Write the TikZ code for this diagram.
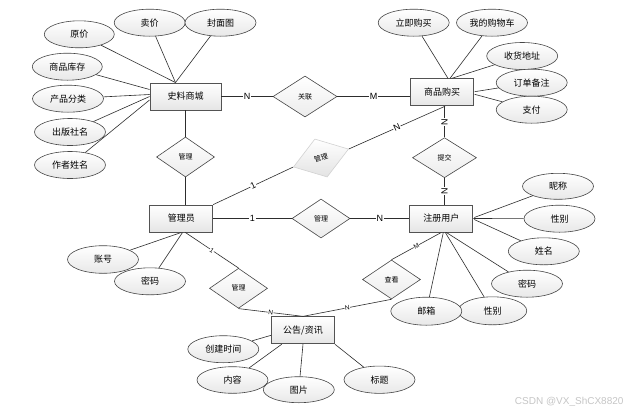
\documentclass[tikz,border=0pt]{standalone}
\usepackage{fontspec}
\setmainfont{Liberation Sans}
\newfontfamily\cjk{Noto Sans CJK SC}
\usetikzlibrary{shapes.geometric,calc}
\begin{document}
\begin{tikzpicture}[x=1pt,y=-1pt,
 ent/.style={rectangle,draw=gray!65!black,line width=0.9pt,top color=white,bottom color=gray!20,minimum width=63pt,minimum height=27pt,inner sep=0pt,font=\cjk\fontsize{9}{10}\selectfont},
 attr/.style={ellipse,draw=gray!55!black,line width=0.6pt,top color=white,bottom color=gray!18,minimum width=71pt,minimum height=27pt,inner sep=0pt,font=\cjk\fontsize{9}{10}\selectfont},
 rel/.style={diamond,draw=gray!55!black,line width=0.6pt,top color=white,bottom color=gray!15,minimum width=58pt,minimum height=40pt,inner sep=0pt,font=\cjk\fontsize{7}{8}\selectfont},
 conn/.style={draw=gray!35!black,line width=0.6pt},
 lbl/.style={fill=white,inner sep=0.6pt,font=\fontsize{9}{10}\selectfont},
 slbl/.style={fill=white,inner sep=0.4pt,font=\fontsize{6.5}{7}\selectfont},
]
\useasboundingbox[fill=white] (0,0) rectangle (634,413);

% entities
\node[ent,minimum width=71pt] (ssc) at (185.5,96.5) {史料商城};
\node[ent] (spgm) at (442,92.3) {商品购买};
\node[ent] (gly) at (181.3,218.5) {管理员};
\node[ent] (zcyh) at (441.3,218.5) {注册用户};
\node[ent] (gg) at (303,330.3) {公告/资讯};

% relationships
\node[rel,minimum width=64pt,minimum height=41pt] (r1) at (305,96.5) {关联};
\node[rel] (r2) at (185.5,157) {管理};
\node[rel,rotate=18,draw=gray!35,top color=white,bottom color=gray!22] (r3) at (321,158) {管理};
\node[rel,minimum width=64pt] (r4) at (444.5,157.7) {提交};
\node[rel,minimum height=39pt] (r5) at (321,218.5) {管理};
\node[rel] (r6) at (238.5,288.3) {管理};
\node[rel,minimum height=39pt] (r7) at (391.5,279.5) {查看};

% connectors between entities and relationships
\draw[conn] (ssc.east) -- node[lbl]{N} (r1.west);
\draw[conn] (r1.east) -- node[lbl]{M} (r1.east -| spgm.west);
\draw[conn] (ssc.south) -- (r2.north);
\draw[conn] (r2.south) -- (r2.south |- gly.north);
\draw[conn] (gly.north east) -- node[lbl,sloped]{1} (r3.west);
\coordinate (spb) at ($(spgm.south)+(3,0)$);
\draw[conn] (r3.east) -- node[lbl,sloped]{N} (spb);
\draw[conn] (r4.north |- spgm.south) -- node[lbl,rotate=90]{N} (r4.north);
\draw[conn] (r4.south) -- node[lbl,rotate=90]{N} (r4.south |- zcyh.north);
\draw[conn] (gly.east) -- node[lbl]{1} (r5.west);
\draw[conn] (r5.east) -- node[lbl]{N} (zcyh.west);
\coordinate (gb) at ($(gly.south)+(4,0)$);
\draw[conn] (gb) -- node[slbl,sloped]{1} (r6.north);
\draw[conn] (r6.south) -- node[slbl,sloped]{N} (gg.north);
\draw[conn] (zcyh.south) -- node[slbl,sloped]{M} (r7.north);
\draw[conn] (r7.south) -- node[slbl,sloped]{N} (gg.north);

% attributes of 史料商城
\node[attr,minimum width=70pt] (a1) at (79.3,34.3) {原价};
\node[attr] (a2) at (149.7,22.7) {卖价};
\node[attr] (a3) at (220.5,22.7) {封面图};
\node[attr,minimum width=70pt] (a4) at (67.3,66.7) {商品库存};
\node[attr] (a5) at (68,98.7) {产品分类};
\node[attr] (a6) at (70,132) {出版社名};
\node[attr] (a7) at (70,165) {作者姓名};
\coordinate (sscT) at ($(ssc.north)+(-10,0)$);
\draw[conn] (a1) -- (sscT);
\draw[conn] (a2) -- (sscT);
\draw[conn] (a3) -- (sscT);
\draw[conn] (a4) -- ($(ssc.west)+(0,-7)$);
\draw[conn] (a5) -- ($(ssc.west)+(0,-2)$);
\draw[conn] (a6) -- (ssc.west);
\draw[conn] (a7) -- ($(ssc.west)+(0,3.5)$);

% attributes of 商品购买
\node[attr] (b1) at (413.7,22.7) {立即购买};
\node[attr] (b2) at (492,22.7) {我的购物车};
\node[attr] (b3) at (522.2,56) {收货地址};
\node[attr] (b4) at (531.7,82.7) {订单备注};
\node[attr] (b5) at (531.7,109.7) {支付};
\draw[conn] (b1) -- ($(spgm.north)+(6,0)$);
\draw[conn] (b2) -- ($(spgm.north)+(8,0)$);
\draw[conn] (b3) -- ($(spgm.north)+(9.7,0)$);
\draw[conn] (b4) -- ($(spgm.east)+(0.6,-0.6)$);
\draw[conn] (b5) -- ($(spgm.east)+(0.6,2)$);

% attributes of 注册用户
\node[attr,minimum height=26pt] (c1) at (558,186.3) {昵称};
\node[attr] (c2) at (559.5,218.7) {性别};
\node[attr] (c3) at (543.8,251.3) {姓名};
\node[attr] (c4) at (527,283.7) {密码};
\node[attr,minimum width=68.5pt,minimum height=28pt] (c5) at (492.5,310.8) {性别};
\node[attr,minimum height=28pt] (c6) at (426.3,311.2) {邮箱};
\draw[conn] (c1) -- ($(zcyh.east)+(1,-1)$);
\draw[conn] (c2) -- (zcyh.east);
\draw[conn] (c3) -- ($(zcyh.east)+(1,1)$);
\draw[conn] (c4) -- ($(zcyh.south)+(5,0)$);
\draw[conn] (c5) -- ($(zcyh.south)+(4,0)$);
\draw[conn] (c6) -- ($(zcyh.south)+(2,0)$);

% attributes of 管理员
\node[attr,minimum height=27.6pt] (d1) at (103,259.5) {账号};
\node[attr] (d2) at (150,281.3) {密码};
\draw[conn] (d1) -- (gly.south);
\draw[conn] (d2) -- ($(gly.south)+(1.2,0)$);

% attributes of 公告/资讯
\node[attr] (e1) at (223.3,349.2) {创建时间};
\node[attr,minimum height=26.6pt] (e2) at (232.5,380) {内容};
\node[attr,minimum height=26pt] (e3) at (298.8,389.7) {图片};
\node[attr,minimum height=27.3pt] (e4) at (379.5,379.7) {标题};
\draw[conn] (e1) -- ($(gg.west)+(0,5)$);
\draw[conn] (e2) -- ($(gg.south)+(-21.3,0)$);
\draw[conn] (e3) -- (gg.south);
\draw[conn] (e4) -- (gg.south east);

% watermark
\node[font=\fontsize{10}{10}\selectfont,text=gray!45,anchor=east] (wm) at (627,401.7) {CSDN @VX\_ShCX8820};
\end{tikzpicture}
\end{document}
